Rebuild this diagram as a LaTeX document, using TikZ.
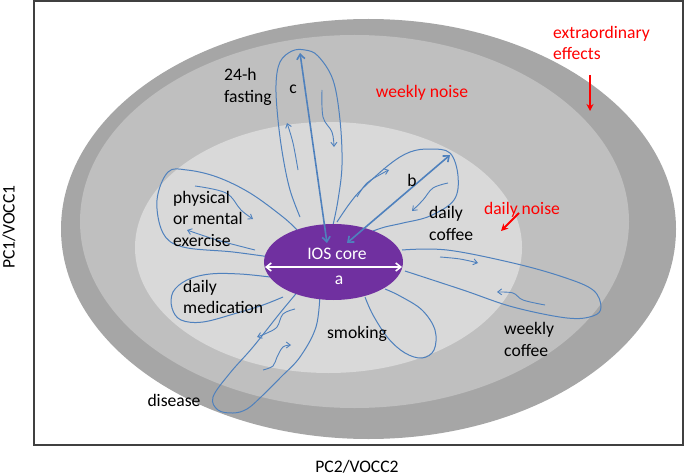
\documentclass[tikz,border=0pt]{standalone}
\usepackage{fontspec}
\setmainfont{Carlito}
\usetikzlibrary{arrows.meta,shapes.geometric}
\definecolor{outerg}{HTML}{A6A6A6}
\definecolor{midg}{HTML}{BFBFBF}
\definecolor{innerg}{HTML}{D9D9D9}
\definecolor{corep}{HTML}{7030A0}
\definecolor{penblue}{HTML}{4F81BD}
\definecolor{framec}{HTML}{404040}
\definecolor{redtxt}{HTML}{FF0000}
\begin{document}
\begin{tikzpicture}[x=1pt,y=-1pt,
  every node/.style={inner sep=0pt, font=\fontsize{17.6}{21.5}\selectfont},
  lbl/.style={text=black, align=left},
  redlbl/.style={text=redtxt, align=left},
  petal/.style={draw=penblue, line width=1pt, smooth, tension=0.6},
  flow/.style={draw=penblue, line width=0.9pt, smooth, tension=0.6, -{Straight Barb[length=4pt,width=6pt]}},
  measure/.style={draw=penblue, line width=1.6pt, {Straight Barb[length=5pt,width=8pt]}-{Straight Barb[length=5pt,width=8pt]}},
  redarrow/.style={draw=redtxt, line width=2pt, -{Stealth[length=7pt,width=7pt]}}
]
\useasboundingbox (0,0) rectangle (685,476);
% frame
\draw[framec, line width=1.5pt] (34,1) rectangle (683,445);
% zones
\fill[outerg] (368.5,229) ellipse [x radius=307.5, y radius=210];
\fill[midg] (354.5,221.5) ellipse [x radius=274.5, y radius=186.5];
\fill[innerg] (328.5,247.5) ellipse [x radius=193.5, y radius=125.5];

% petals
\draw[petal] plot coordinates {(300,217) (290,190) (283,157) (278,120) (276,85) (280,62) (292,51) (305,50) (318,56) (333,80) (340,120) (342,165) (338,200) (333,225)};
\draw[petal] plot coordinates {(297,230) (283,217) (250,193) (217,177) (187,170) (168,172) (157,200) (163,233) (183,247) (233,252) (277,258)};
\draw[petal] plot coordinates {(337,222) (350,203) (363,188) (390,164) (410,152) (430,149) (450,153) (458,176) (454,200) (430,216) (403,223) (385,227) (373,231)};
\draw[petal] plot coordinates {(402,250) (447,250) (513,263) (563,277) (593,290) (601,307) (593,316) (567,318) (513,307) (463,290) (405,271)};
\draw[petal] plot coordinates {(365,297) (373,315) (388,338) (405,353) (422,358) (434,350) (435,330) (422,310) (400,296) (385,289)};
\draw[petal] plot coordinates {(270,277) (240,274) (210,274) (187,280) (173,292) (172,308) (181,320) (203,322) (237,313) (263,305) (283,297)};
\draw[petal] plot coordinates {(300,289) (280,313) (253,347) (230,373) (213,397) (218,410) (233,413) (247,409) (262,396) (281,377) (300,357) (316,327) (320,293)};

% flow arrows
\draw[flow] plot coordinates {(298,170) (293,143) (287,123)};
\draw[flow] plot coordinates {(322,90) (323,117) (332,132) (334,147)};
\draw[flow] plot coordinates {(195,186) (226,193) (241,210) (253,219)};
\draw[flow] plot coordinates {(255,250) (217,240) (187,230)};
\draw[flow] plot coordinates {(357,197) (367,183) (383,173) (389,170)};
\draw[flow] plot coordinates {(448,183) (433,188) (423,200) (412,211)};
\draw[flow] plot coordinates {(440,257) (460,259) (478,263)};
\draw[flow] plot coordinates {(545,305) (523,300) (513,293) (497,292)};
\draw[flow] plot coordinates {(295,309) (283,314) (277,327) (267,333) (257,337)};
\draw[flow] plot coordinates {(263,370) (273,366) (277,357) (283,347) (291,345)};

% core
\node[ellipse, fill=corep, minimum width=139pt, minimum height=76pt] (core) at (333.5,262) {};
\coordinate (cbase) at (327,243);
\coordinate (ctip) at (300,53);
\coordinate (bbase) at (347,243);
\coordinate (btip) at (450,155);
\coordinate (aleft) at (265,267);
\coordinate (aright) at (402,267);
\draw[measure] (cbase) -- (ctip);
\draw[measure] (bbase) -- (btip);
\draw[line width=1.6pt, white, {Straight Barb[length=5pt,width=8pt]}-{Straight Barb[length=5pt,width=8pt]}] (aleft) -- (aright);
\node[text=white] (ios) at (337,254) {IOS core};
\node[text=white] (la) at (339,280) {a};
\node[lbl] (lb) at (412,180) {b};
\node[lbl] (lc) at (293,89) {c};

% labels
\node[lbl, anchor=west] (fast) at (224,87) {24-h\\fasting};
\node[lbl, anchor=west] (exer) at (173,218.5) {physical\\or mental\\exercise};
\node[lbl, anchor=west] (dcof) at (429,223.5) {daily\\coffee};
\node[lbl, anchor=west] (wcof) at (504,339.5) {weekly\\coffee};
\node[lbl, anchor=west] (med) at (183,297) {daily\\medication};
\node[lbl] (smok) at (357,334) {smoking};
\node[lbl] (dis) at (174,400) {disease};
\node[redlbl] (wn) at (422,93) {weekly noise};
\node[redlbl] (dn) at (522,210) {daily noise};
\node[redlbl, anchor=west] (ext) at (553,43) {extraordinary\\effects};
\coordinate (extA) at (590,75);
\coordinate (extB) at (590,111);
\draw[redarrow] (extA) -- (extB);
\coordinate (dnA) at (519,213);
\coordinate (dnB) at (501,231);
\draw[redarrow] (dnA) -- (dnB);

% axes
\node[lbl, rotate=90] (ylab) at (9,227) {PC1/VOCC1};
\node[lbl] (xlab) at (357,467) {PC2/VOCC2};
\end{tikzpicture}
\end{document}
